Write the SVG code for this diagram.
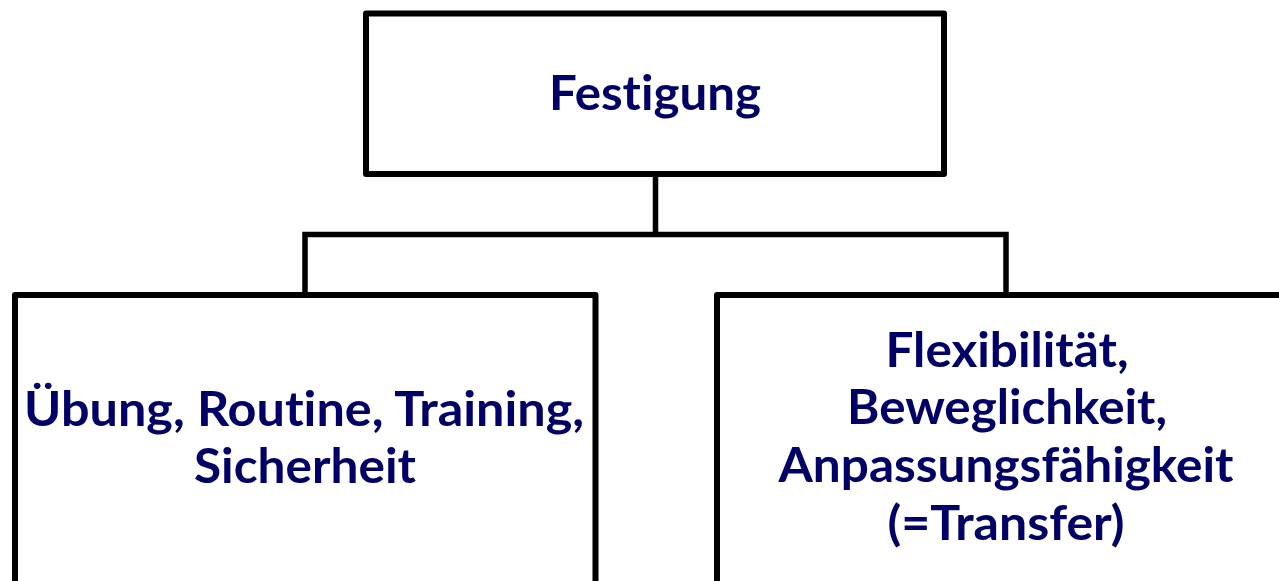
<svg xmlns="http://www.w3.org/2000/svg" width="1279" height="581" viewBox="0 0 1279 581">
<style>
.box{fill:#ffffff;stroke:#000000;stroke-width:6;stroke-linejoin:round}
.conn{fill:none;stroke:#000000;stroke-width:5.5;stroke-linejoin:miter}
.lbl{font-family:Lato,"Open Sans","Liberation Sans",sans-serif;font-weight:bold;font-size:47px;fill:#000066;text-anchor:middle;font-variant-ligatures:none;font-feature-settings:"liga" 0}
</style>
<rect width="1279" height="581" fill="#ffffff"/>
<g id="connectors">
<path class="conn" d="M655.5,174 V234.5 M305,297 V234.5 H1006 V297"/>
</g>
<g id="node-festigung">
<rect class="box" x="366" y="13.5" width="578" height="160.5"/>
<text class="lbl" x="655" y="110" textLength="212" lengthAdjust="spacingAndGlyphs">Festigung</text>
</g>
<g id="node-uebung">
<rect class="box" x="15" y="295" width="580.5" height="320"/>
<text class="lbl" x="304" y="426" textLength="560" lengthAdjust="spacingAndGlyphs">Übung, Routine, Training,</text>
<text class="lbl" x="305" y="483" textLength="222" lengthAdjust="spacingAndGlyphs">Sicherheit</text>
</g>
<g id="node-flexibilitaet">
<rect class="box" x="717" y="295" width="600" height="320"/>
<text class="lbl" x="1007" y="367" textLength="243" lengthAdjust="spacingAndGlyphs">Flexibilität,</text>
<text class="lbl" x="1007" y="424" textLength="320" lengthAdjust="spacingAndGlyphs">Beweglichkeit,</text>
<text class="lbl" x="1006" y="482" textLength="455" lengthAdjust="spacingAndGlyphs">Anpassungsfähigkeit</text>
<text class="lbl" x="1006" y="540" textLength="237" lengthAdjust="spacingAndGlyphs">(=Transfer)</text>
</g>
</svg>
